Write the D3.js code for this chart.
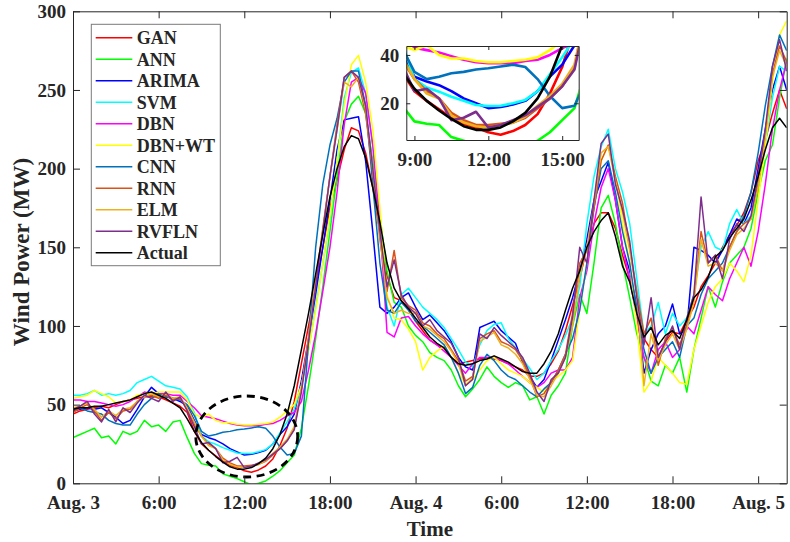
<!DOCTYPE html>
<html><head><meta charset="utf-8">
<script src="https://cdn.jsdelivr.net/npm/d3@7"></script>
<style>
html,body{margin:0;padding:0;background:#fff;}
svg text{font-family:"Liberation Serif","Times New Roman",serif;font-weight:bold;fill:#262626;}
</style></head><body>
<svg id="chart" width="790" height="542"></svg>
<script>
// Half-hourly samples from Aug. 3 00:00 to Aug. 5 02:00 (hours since start)
const hours = d3.range(0, 50.001, 0.5);

const gan = [44,46,47,48,49,48,50,52,53,54,
  55,55,55,53,51,49,45,33,25,21,
  17.5,14,11.5,10,8,7,8.5,11,15.5,24,
  35,52,76,100,125,150,175,193,212,226,
  224,210,188,160,132,118,116,112,103,97,
  91,88,86,80,76,77,78,79,80,79,
  78,76,74,72,68,68,70,76,84,97,
  113,130,150,165,172,172,162,145,130,108,
  92,85,80,90,96,95,104,112,125,132,
  140,150,158,164,172,185,205,218,235,250,
  238];
const ann = [29,31,33,35,29,30,25,33,31,33,
  40,36,37,33,39,40,29,19,12.5,11.5,
  11,6,4.5,3,1,-1,0,1.5,4.5,8,
  13,18,35,62,92,125,160,195,230,241,
  246,235,205,170,135,115,112,100,94,90,
  83,80,78,72,62,55,60,66,74,68,
  64,61,64,62,53,55,44,56,62,70,
  100,120,108,140,175,183,165,140,118,95,
  80,65,62,75,70,80,58,85,105,125,
  112,128,140,145,150,162,185,205,215,245,
  270];
const arima = [46,47,48,47,48,45,42,38,40,47,
  55,61,57,55,54,52,49,40,31,29,
  27.5,25,22,20,18,18.5,19.5,21,25,31,
  36,44,65,92,120,150,180,212,231,232,
  233,205,160,112,108,112,118,121,112,104,
  107,102,97,90,80,74,72,99,101,103,
  97,93,89,77,68,61,66,78,91,104,
  118,135,155,180,192,204,180,150,135,112,
  70,85,95,100,114,95,98,150,148,145,
  140,148,158,168,165,175,200,225,250,265,
  250];
const svm = [56,56,57,59,56,57,56,57,59,64,
  66,68,65,62,61,60,55,45,30,26.5,
  24.8,22.7,21,19.3,18.9,19,20,21.4,25,32,
  39,47,62,85,112,140,168,205,245,261,
  264,248,215,165,112,100,120,124,118,112,
  108,104,99,92,85,77,74,88,97,101,
  102,92,86,79,73,66,70,78,85,94,
  105,125,165,195,214,225,200,185,165,130,
  95,100,115,95,108,100,105,120,150,160,
  150,148,165,174,165,170,190,215,245,265,
  262];
const dbn = [53,53,52,52,51,50,49,50,52,55,
  58,57,57,57,56,56,52,48,43,42,
  41,39.5,38,37,36.6,36.6,36.6,37.5,38,40,
  42.8,45,52,72,95,122,150,185,228,255,
  258,248,215,165,96,93,105,106,100,95,
  91,88,84,80,75,70,76,80,80,80,
  78,76,72,68,64,61,64,70,72,72,
  80,118,135,165,188,200,180,150,130,105,
  80,70,85,90,80,85,100,95,110,125,
  120,116,130,140,150,138,160,190,225,250,
  268];
const dbnWt = [54,55,56,59,57,55,51,52,53,56,
  57,57,58,58,58,58,53,44,42,44,
  40,38.5,38.5,37.5,37,37,37.5,38,39,42,
  46,50,62,85,110,140,170,205,240,266,
  272,255,225,175,120,105,104,98,90,72,
  80,84,87,80,70,63,66,72,78,80,
  76,72,70,68,64,61,58,65,68,72,
  78,110,140,175,205,215,195,165,140,100,
  58,65,80,75,70,64,63,85,100,115,
  125,130,140,135,128,145,180,215,255,285,
  294];
const cnn = [47,48,46,45,44,40,38,37,37,44,
  50,54,57,55,54,53,50,43,33,30,
  31,32.4,33,34,34.5,35.2,36,35,30,23,
  18,19,30,90,150,190,215,232,255,262,
  262,240,190,140,110,108,115,110,103,100,
  96,92,88,80,70,57,61,75,82,78,
  72,68,66,62,58,55,60,64,72,82,
  92,110,140,175,200,205,185,160,140,110,
  85,70,80,85,90,80,100,105,120,130,
  135,140,150,160,170,185,210,240,265,285,
  275];
const rnn = [45,48,50,46,40,45,41,46,47,52,
  55,56,54,56,53,54,47,38,30,25,
  22,16,13,11,11,11.5,12,14,18,22,
  27,35,60,92,128,162,195,228,258,262,
  255,235,198,155,122,148,118,113,110,102,
  100,95,92,85,78,65,68,92,95,97,
  90,88,85,78,68,55,57,64,72,82,
  108,140,148,175,205,215,195,178,150,122,
  95,105,75,92,98,88,100,118,160,140,
  145,135,150,160,165,168,190,222,260,278,
  268];
const elm = [48,49,51,47,42,46,43,47,48,52,
  55,57,55,57,54,55,48,39,30,24,
  22,15,12,10.5,10,11,12,14.5,19,23,
  28,36,60,92,128,160,195,225,255,252,
  258,238,200,158,118,108,110,108,108,100,
  98,94,90,84,76,62,67,90,93,96,
  88,86,82,76,66,56,55,62,70,80,
  100,132,150,178,210,214,192,172,148,120,
  62,95,78,88,95,85,98,115,155,138,
  140,135,148,158,162,168,188,220,258,275,
  265];
const rvfln = [47,49,52,44,39,47,39,48,45,51,
  56,54,52,58,52,55,46,36,25,26,
  22,13,14,16.5,10,11,13,15,18.5,22,
  27,34,58,90,125,160,195,225,258,262,
  258,240,200,160,125,142,120,112,108,100,
  104,97,93,89,80,62,66,95,92,99,
  94,90,86,80,70,58,52,66,70,80,
  106,150,140,180,216,222,190,174,154,118,
  88,118,80,90,100,85,105,120,182,140,
  145,130,155,165,160,170,195,225,265,282,
  262];
const actual = [47,48,48,49,49,50,51,52,53,55,
  57,58,56,54,51,48,41,33,26,21,
  17,13.5,10.5,9,9,10,12.5,16,22,31,
  44,62,85,108,133,158,182,200,214,221,
  219,207,188,166,140,124,116,111,105,99,
  93,89,86,80,76,75,76,78,79,81,
  79,77,74,71,70,70,76,84,95,110,
  124,135,150,160,167,172,157,138,128,108,
  93,99,88,94,97,92,104,118,123,131,
  144,148,156,162,168,180,195,212,226,232,
  226];

const seriesNames = ["GAN","ANN","ARIMA","SVM","DBN","DBN+WT","CNN","RNN","ELM","RVFLN","Actual"];
const seriesValues = [gan, ann, arima, svm, dbn, dbnWt, cnn, rnn, elm, rvfln, actual];
const seriesColors = ["#ff0000","#00ff00","#0000ff","#00ffff","#ff00ff","#ffff00",
  "#0072bd","#d95319","#edb120","#7e2f8e","#000000"];

const xTicks = [0,6,12,18,24,30,36,42,48];
const xTickLabels = ["Aug. 3","6:00","12:00","18:00","Aug. 4","6:00","12:00","18:00","Aug. 5"];
const yTicks = [0,50,100,150,200,250,300];
const insetXTicks = [9,12,15];
const insetXTickLabels = ["9:00","12:00","15:00"];
const insetYTicks = [20,40];

const series = seriesNames.map((name, k) => ({
  name, color: seriesColors[k],
  points: hours.map((h, i) => [h, seriesValues[k][i]])
}));

const svg = d3.select("#chart");
const P = {left: 73, right: 786.7, top: 11.3, bottom: 483.3};
const x = d3.scaleLinear().domain([0, 50]).range([P.left, P.right]);
const y = d3.scaleLinear().domain([0, 300]).range([P.bottom, P.top]);

svg.append("clipPath").attr("id","plotClip").append("rect")
  .attr("x", P.left).attr("y", P.top)
  .attr("width", P.right - P.left).attr("height", P.bottom - P.top);

// main series
const line = d3.line().x(d => x(d[0])).y(d => y(d[1]));
svg.append("g").attr("clip-path","url(#plotClip)")
  .selectAll("path").data(series).join("path")
  .attr("d", d => line(d.points))
  .attr("fill","none").attr("stroke", d => d.color)
  .attr("stroke-width", 1.5).attr("stroke-linejoin","round");

// dashed ellipse marking the midday trough
svg.append("ellipse")
  .attr("cx", x(12.17)).attr("cy", y(29.75))
  .attr("rx", x(3.57) - x(0)).attr("ry", y(0) - y(25.75))
  .attr("fill","none").attr("stroke","#000").attr("stroke-width", 2.8)
  .attr("stroke-dasharray","8 5.5");

// axes (ticks pointing inward, box on all sides)
function styleAxis(g) {
  g.selectAll("path.domain").attr("stroke","#262626").attr("stroke-width",1);
  g.selectAll(".tick line").attr("stroke","#262626").attr("stroke-width",1);
  g.selectAll(".tick text").attr("fill","#262626")
    .style("font-family",'"Liberation Serif","Times New Roman",serif')
    .style("font-weight","bold").style("font-size","19px");
}
svg.append("g").attr("transform",`translate(0,${P.bottom})`)
  .call(d3.axisBottom(x).tickValues(xTicks).tickSize(-7).tickSizeOuter(0)
    .tickPadding(12).tickFormat((d, i) => xTickLabels[i]))
  .call(styleAxis);
svg.append("g").attr("transform",`translate(0,${P.top})`)
  .call(d3.axisTop(x).tickValues(xTicks).tickSize(-7).tickSizeOuter(0).tickFormat(""))
  .call(styleAxis);
svg.append("g").attr("transform",`translate(${P.left},0)`)
  .call(d3.axisLeft(y).tickValues(yTicks).tickSize(-7).tickSizeOuter(0).tickPadding(7))
  .call(styleAxis);
svg.append("g").attr("transform",`translate(${P.right},0)`)
  .call(d3.axisRight(y).tickValues(yTicks).tickSize(-7).tickSizeOuter(0).tickFormat(""))
  .call(styleAxis);

svg.selectAll("g text").attr("font-family", null);

// axis titles
svg.append("text").attr("x", (P.left + P.right) / 2).attr("y", 536)
  .attr("text-anchor","middle").style("font-size","21px").text("Time");
svg.append("text").attr("transform", `translate(28.5,252) rotate(-90)`)
  .attr("text-anchor","middle").style("font-size","23px").text("Wind Power (MW)");

// legend
const L = {x: 91.3, y: 24.3, w: 129, h: 241.4, row0: 37.7, step: 21.5};
const legend = svg.append("g");
legend.append("rect").attr("x", L.x).attr("y", L.y).attr("width", L.w).attr("height", L.h)
  .attr("fill","#fff").attr("stroke","#7a7a7a").attr("stroke-width",1);
const rows = legend.selectAll("g.row").data(series).join("g").attr("class","row")
  .attr("transform", (d, i) => `translate(0,${L.row0 + i * L.step})`);
rows.append("line").attr("x1", 95.7).attr("x2", 132.3)
  .attr("stroke", d => d.color).attr("stroke-width", 1.5);
rows.append("text").attr("x", 136.7).attr("dy","0.35em")
  .style("font-size","18px").text(d => d.name);

// inset: zoom on the midday trough of Aug. 3
const I = {left: 406.3, right: 578.7, top: 46, bottom: 140};
const xi = d3.scaleLinear().domain([8.67, 15.67]).range([I.left, I.right]);
const yi = d3.scaleLinear().domain([4.8, 43.7]).range([I.bottom, I.top]);
const inset = svg.append("g");
inset.append("rect").attr("x", I.left).attr("y", I.top)
  .attr("width", I.right - I.left).attr("height", I.bottom - I.top).attr("fill","#fff");
inset.append("clipPath").attr("id","insetClip").append("rect")
  .attr("x", I.left).attr("y", I.top)
  .attr("width", I.right - I.left).attr("height", I.bottom - I.top);
const lineI = d3.line().x(d => xi(d[0])).y(d => yi(d[1]));
inset.append("g").attr("clip-path","url(#insetClip)")
  .selectAll("path").data(series).join("path")
  .attr("d", d => lineI(d.points))
  .attr("fill","none").attr("stroke", d => d.color)
  .attr("stroke-width", 2.6).attr("stroke-linejoin","round");
inset.append("g").attr("transform",`translate(0,${I.bottom})`)
  .call(d3.axisBottom(xi).tickValues(insetXTicks).tickSize(-4).tickSizeOuter(0)
    .tickPadding(12.5).tickFormat((d, i) => insetXTickLabels[i]))
  .call(styleAxis);
inset.append("g").attr("transform",`translate(0,${I.top})`)
  .call(d3.axisTop(xi).tickValues(insetXTicks).tickSize(-4).tickSizeOuter(0).tickFormat(""))
  .call(styleAxis);
inset.append("g").attr("transform",`translate(${I.left},0)`)
  .call(d3.axisLeft(yi).tickValues(insetYTicks).tickSize(-4).tickSizeOuter(0).tickPadding(7))
  .call(styleAxis);
inset.append("g").attr("transform",`translate(${I.right},0)`)
  .call(d3.axisRight(yi).tickValues(insetYTicks).tickSize(-4).tickSizeOuter(0).tickFormat(""))
  .call(styleAxis);
</script>
</body></html>
